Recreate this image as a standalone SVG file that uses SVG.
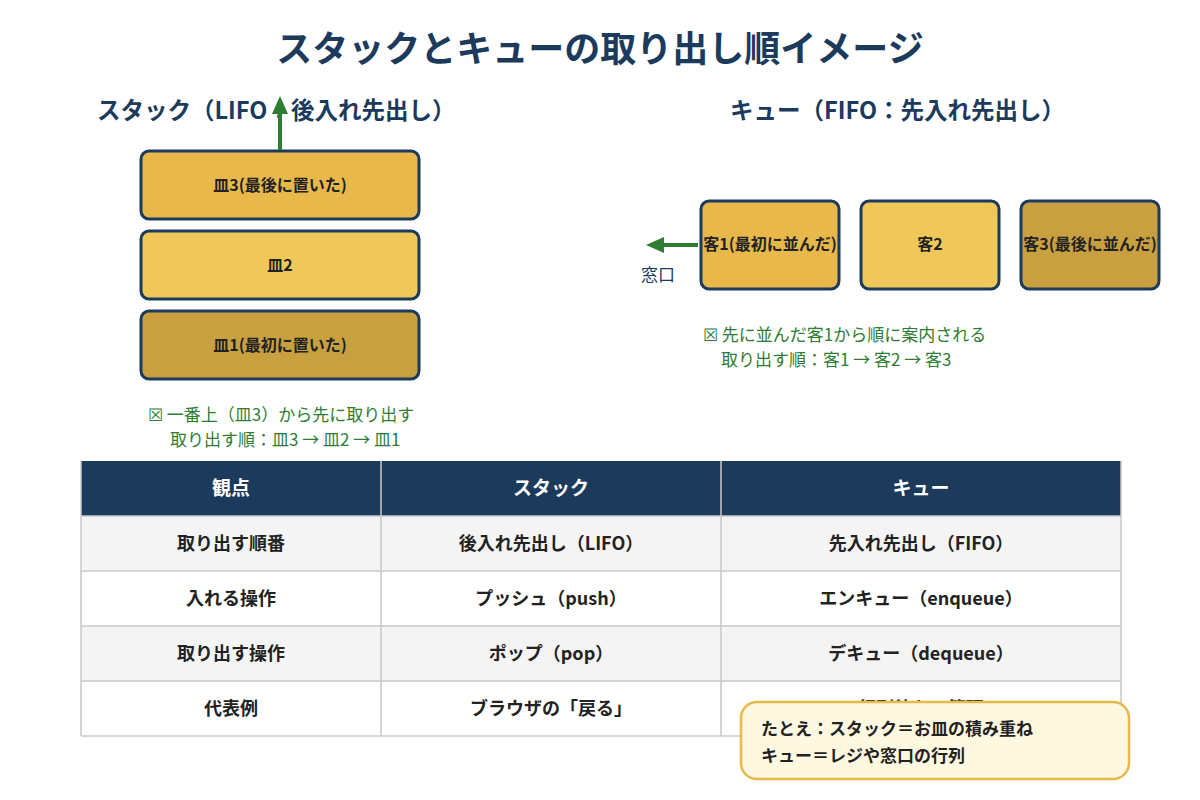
<svg xmlns="http://www.w3.org/2000/svg" width="1200" height="800" viewBox="0 0 1200 800">
<defs>
<style>
text{font-family:"Noto Sans CJK JP","Noto Sans",sans-serif}
.t{fill:#1b3a5c;font-weight:700}
.box{stroke:#1b3a5c;stroke-width:3}
.bl{font-size:16px;font-weight:700;fill:#222;text-anchor:middle}
.note{font-size:17px;fill:#2e7d32}
.th{fill:#fff;font-size:19px;font-weight:700;text-anchor:middle}
.td{fill:#222;font-size:18px;font-weight:700;text-anchor:middle}
.grid{stroke:#c8c8c8;stroke-width:1.5;fill:none}
</style>
<marker id="ah" markerWidth="18" markerHeight="18" refX="4" refY="9" orient="auto" markerUnits="userSpaceOnUse" viewBox="0 0 18 18"><path d="M0,1L18,9L0,17z" fill="#2e7d32"/></marker>
</defs>
<rect width="1200" height="800" fill="#fff"/>
<text class="t" x="600" y="62" font-size="36" text-anchor="middle">スタックとキューの取り出し順イメージ</text>
<text class="t" x="97" y="119" font-size="23.5">スタック（LIFO：後入れ先出し）</text>
<text class="t" x="730" y="119" font-size="23.5">キュー（FIFO：先入れ先出し）</text>
<g id="stack3"><rect class="box" x="141" y="151" width="278" height="68" rx="8" fill="#e8b84a"/><text class="bl" x="280" y="191">皿3(最後に置いた)</text></g>
<g id="stack2"><rect class="box" x="141" y="231" width="278" height="68" rx="8" fill="#f0c85a"/><text class="bl" x="280" y="271">皿2</text></g>
<g id="stack1"><rect class="box" x="141" y="311" width="278" height="68" rx="8" fill="#c9a040"/><text class="bl" x="280" y="351">皿1(最初に置いた)</text></g>
<g id="q1"><rect class="box" x="701" y="201" width="138" height="88" rx="8" fill="#e8b84a"/><text class="bl" x="770" y="250" font-size="15">客1(最初に並んだ)</text></g>
<g id="q2"><rect class="box" x="861" y="201" width="138" height="88" rx="8" fill="#f0c85a"/><text class="bl" x="930" y="250" font-size="15">客2</text></g>
<g id="q3"><rect class="box" x="1021" y="201" width="138" height="88" rx="8" fill="#c9a040"/><text class="bl" x="1090" y="250" font-size="15">客3(最後に並んだ)</text></g>
<g id="connectors" stroke="#2e7d32" stroke-width="4" fill="none">
<line x1="280" y1="150" x2="280" y2="110" marker-end="url(#ah)"/>
<line x1="698" y1="245" x2="660" y2="245" marker-end="url(#ah)"/>
</g>
<text x="641" y="281" font-size="17" fill="#1b3a5c">窓口</text>
<text class="note" x="148" y="421">☒ 一番上（皿3）から先に取り出す</text>
<text class="note" x="170" y="446">取り出す順：皿3 → 皿2 → 皿1</text>
<text class="note" x="703" y="341">☒ 先に並んだ客1から順に案内される</text>
<text class="note" x="721" y="366">取り出す順：客1 → 客2 → 客3</text>
<g id="table">
<rect x="81" y="461" width="1040" height="55" fill="#1b3a5c"/>
<rect x="81" y="516" width="1040" height="55" fill="#f4f4f4"/>
<rect x="81" y="571" width="1040" height="55" fill="#fff"/>
<rect x="81" y="626" width="1040" height="55" fill="#f4f4f4"/>
<rect x="81" y="681" width="1040" height="55" fill="#fff"/>
<path class="grid" d="M81,516H1121M81,571H1121M81,626H1121M81,681H1121M81,736H1121M81,461V736M1121,461V736M381,516V736M721,516V736"/>
<path d="M381,461V516M721,461V516" stroke="#c8c8c8" stroke-width="1.5"/>
<text class="th" x="231" y="495">観点</text><text class="th" x="551" y="495">スタック</text><text class="th" x="921" y="495">キュー</text>
<text class="td" x="231" y="550">取り出す順番</text><text class="td" x="551" y="550">後入れ先出し（LIFO）</text><text class="td" x="921" y="550">先入れ先出し（FIFO）</text>
<text class="td" x="231" y="605">入れる操作</text><text class="td" x="551" y="605">プッシュ（push）</text><text class="td" x="921" y="605">エンキュー（enqueue）</text>
<text class="td" x="231" y="660">取り出す操作</text><text class="td" x="551" y="660">ポップ（pop）</text><text class="td" x="921" y="660">デキュー（dequeue）</text>
<text class="td" x="231" y="715">代表例</text><text class="td" x="551" y="715">ブラウザの「戻る」</text><text class="td" x="921" y="715">行列待ちの管理</text>
</g>
<g id="callout">
<rect x="741" y="702" width="388" height="77" rx="16" fill="#fff8e1" stroke="#e8b84a" stroke-width="2.5"/>
<text x="761" y="735" font-size="17" font-weight="700" fill="#222">たとえ：スタック＝お皿の積み重ね</text>
<text x="761" y="762" font-size="17" font-weight="700" fill="#222">キュー＝レジや窓口の行列</text>
</g>
</svg>
